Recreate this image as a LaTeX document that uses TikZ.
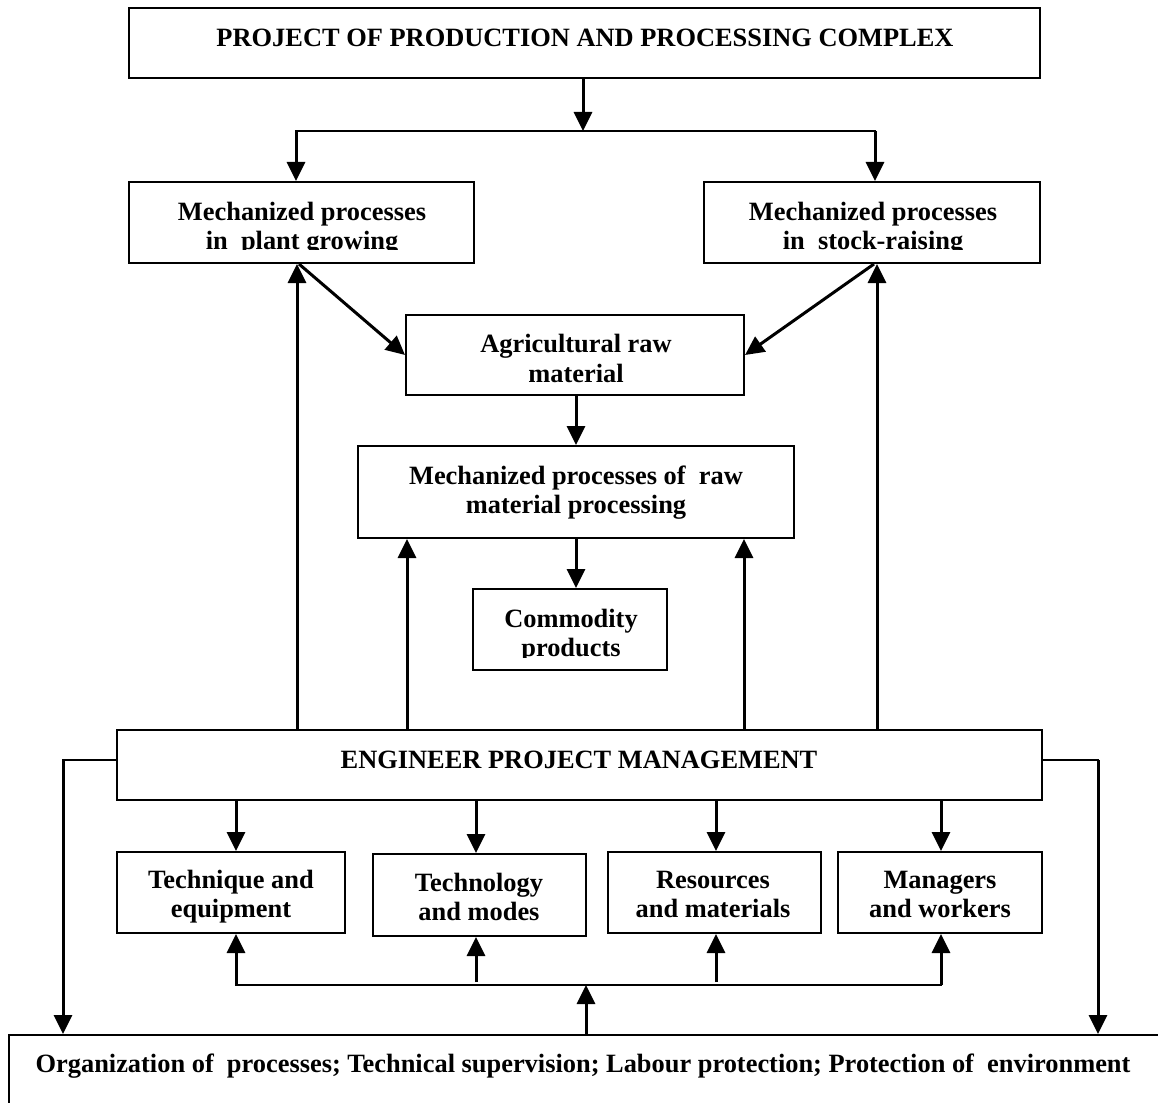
\documentclass[tikz,border=0pt]{standalone}
\usepackage{fontspec}
\setmainfont{Liberation Serif}
\usetikzlibrary{arrows.meta}
\begin{document}
\begin{tikzpicture}[x=1pt,y=-1pt,
  box/.style={draw, line width=2pt, rectangle, inner sep=0pt},
  lbl/.style={anchor=base, inner sep=0pt, font=\fontsize{26.4}{29}\selectfont\bfseries},
  conn/.style={line width=3pt},
  hconn/.style={line width=2.2pt, line cap=rect},
  arr/.style={conn, -{Triangle[length=19pt,width=18pt]}}]
\useasboundingbox[fill=white] (0,0) rectangle (1158,1102);
\clip (0,0) rectangle (1158,1102);

% boxes
\node[box, minimum width=911pt, minimum height=70pt] (top)  at (584.5,43)   {};
\node[box, minimum width=345pt, minimum height=81pt] (pg)   at (301.5,222.5) {};
\node[box, minimum width=336pt, minimum height=81pt] (sr)   at (872,222.5)  {};
\node[box, minimum width=338pt, minimum height=80pt] (agri) at (575,355)    {};
\node[box, minimum width=436pt, minimum height=92pt] (mp)   at (576,492)    {};
\node[box, minimum width=194pt, minimum height=81pt] (cp)   at (570,629.5)  {};
\node[box, minimum width=925pt, minimum height=70pt] (epm)  at (579.5,765)  {};
\node[box, minimum width=228pt, minimum height=81pt] (b1)   at (231,892.5)  {};
\node[box, minimum width=213pt, minimum height=82pt] (b2)   at (479.5,895)  {};
\node[box, minimum width=213pt, minimum height=81pt] (b3)   at (714.5,892.5) {};
\node[box, minimum width=204pt, minimum height=81pt] (b4)   at (940,892.5)  {};
\node[box, minimum width=1171pt, minimum height=105pt] (org) at (594.5,1087.5) {};

% labels
\node[lbl] (top-t) at (585,47) {PROJECT OF PRODUCTION AND PROCESSING COMPLEX};
\begin{scope}
  \clip (129,182) rectangle (474,249);
  \node[lbl] (pg-t1) at (302,220) {Mechanized processes};
  \node[lbl] (pg-t2) at (302,249) {in\ \ plant growing};
\end{scope}
\begin{scope}
  \clip (704,182) rectangle (1040,249);
  \node[lbl] (sr-t1) at (873,220) {Mechanized processes};
  \node[lbl] (sr-t2) at (873,249) {in\ \ stock-raising};
\end{scope}
\node[lbl] (agri-t1) at (576,352) {Agricultural raw};
\node[lbl] (agri-t2) at (576,382) {material};
\node[lbl] (mp-t1) at (576,484) {Mechanized processes of\ \ raw};
\node[lbl] (mp-t2) at (576,513) {material processing};
\begin{scope}
  \clip (473,589) rectangle (667,657);
  \node[lbl] (cp-t1) at (571,627) {Commodity};
  \node[lbl] (cp-t2) at (571,656) {products};
\end{scope}
\node[lbl] (epm-t) at (579,768) {ENGINEER PROJECT MANAGEMENT};
\node[lbl] (b1-t1) at (231,888) {Technique and};
\node[lbl] (b1-t2) at (231,917) {equipment};
\node[lbl] (b2-t1) at (479,891) {Technology};
\node[lbl] (b2-t2) at (479,920) {and modes};
\node[lbl] (b3-t1) at (713,888) {Resources};
\node[lbl] (b3-t2) at (713,917) {and materials};
\node[lbl] (b4-t1) at (940,888) {Managers};
\node[lbl] (b4-t2) at (940,917) {and workers};
\node[lbl] (org-t) at (583,1072) {Organization of\ \ processes; Technical supervision; Labour protection; Protection of\ \ environment};

% project splits into the two mechanized branches
\coordinate (split)  at (583,131);
\coordinate (splitL) at (296,131);
\coordinate (splitR) at (875,131);
\draw[arr] (top.south -| split) -- (split);
\draw[hconn] (splitL) -- (splitR);
\draw[arr] (splitL) -- (pg.north -| splitL);
\draw[arr] (splitR) -- (sr.north -| splitR);

% management feeds the production processes
\draw[arr] (epm.north -| 297,0) -- (pg.south -| 297,0);
\draw[arr] (epm.north -| 877,0) -- (sr.south -| 877,0);
\draw[arr] (epm.north -| 407,0) -- (mp.south -| 407,0);
\draw[arr] (epm.north -| 744,0) -- (mp.south -| 744,0);

% raw material flow
\draw[arr] (pg.south -| 299,0) -- (agri.west);
\draw[arr] (sr.south -| 874,0) -- (agri.east);
\draw[arr] (agri.south -| 576,0) -- (mp.north -| 576,0);
\draw[arr] (mp.south -| 576,0) -- (cp.north -| 576,0);

% management to the bottom block, both sides
\coordinate (cL) at (63,760);
\coordinate (cR) at (1098,760);
\draw[hconn] (epm.west |- cL) -- (cL);
\draw[arr] (cL) -- (org.north -| cL);
\draw[hconn] (epm.east |- cR) -- (cR);
\draw[arr] (cR) -- (org.north -| cR);

% management to the four resource groups
\draw[arr] (epm.south -| 236,0) -- (b1.north -| 236,0);
\draw[arr] (epm.south -| 476,0) -- (b2.north -| 476,0);
\draw[arr] (epm.south -| 716,0) -- (b3.north -| 716,0);
\draw[arr] (epm.south -| 941,0) -- (b4.north -| 941,0);

% bottom block back up to the four groups
\coordinate (bus)  at (586,985);
\coordinate (busL) at (236,985);
\coordinate (busR) at (941,985);
\coordinate (busA) at (476,985);
\coordinate (busB) at (716,985);
\draw[hconn] (busL) -- (busR);
\draw[arr] (busL) -- (b1.south -| busL);
\draw[arr] (busR) -- (b4.south -| busR);
\draw[arr] ([yshift=3pt]busA) -- (b2.south -| busA);
\draw[arr] ([yshift=3pt]busB) -- (b3.south -| busB);
\draw[arr] (org.north -| bus) -- (bus);
\end{tikzpicture}
\end{document}
